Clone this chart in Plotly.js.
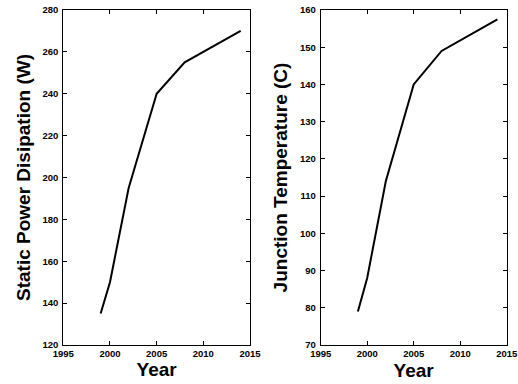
<!DOCTYPE html>
<html>
<head>
<meta charset="utf-8">
<script src="https://cdn.plot.ly/plotly-3.0.1.min.js"></script>
<style>html,body{margin:0;padding:0;background:#fff;}#chart{width:518px;height:384px;}</style>
</head>
<body>
<div id="chart"></div>
<script>
const years = [1999, 2000, 2002, 2005, 2008, 2014];
const staticPower = [135, 150, 195, 240, 255, 270];
const junctionTemp = [79, 88, 114, 140, 149, 157.5];
const xTitle = 'Year';
const leftTitle = 'Static Power Disipation (W)';
const rightTitle = 'Junction Temperature (C)';

const tickFont = {family: 'Liberation Sans, Arial, sans-serif', size: 9.5, color: '#000', weight: 'bold'};
const titleFont = {family: 'Liberation Sans, Arial, sans-serif', size: 19, color: '#000', weight: 'bold'};

function axisBase(extra) {
  return Object.assign({
    showline: true, linecolor: '#000', linewidth: 1,
    mirror: 'ticks', ticks: 'inside', ticklen: 4, tickwidth: 1, tickcolor: '#000',
    showgrid: false, zeroline: false, tickfont: tickFont, automargin: false,
    fixedrange: true
  }, extra);
}

const traces = [
  {x: years, y: staticPower, type: 'scatter', mode: 'lines', line: {color: '#000', width: 2}, xaxis: 'x', yaxis: 'y', showlegend: false},
  {x: years, y: junctionTemp, type: 'scatter', mode: 'lines', line: {color: '#000', width: 2}, xaxis: 'x2', yaxis: 'y2', showlegend: false}
];

const layout = {
  width: 518, height: 384,
  margin: {l: 0, r: 0, t: 10, b: 39},
  paper_bgcolor: '#fff', plot_bgcolor: '#fff',
  showlegend: false,
  xaxis: axisBase({domain: [63.3/518, 250/518], range: [1995, 2015], dtick: 5, tick0: 1995, anchor: 'y',
    title: {text: xTitle, font: titleFont, standoff: 3}}),
  yaxis: axisBase({domain: [0, 1], range: [120, 280], dtick: 20, tick0: 120, anchor: 'x', ticklabelstandoff: 2,
    title: {text: leftTitle, font: titleFont, standoff: 6}}),
  xaxis2: axisBase({domain: [320.7/518, 506.7/518], range: [1995, 2015], dtick: 5, tick0: 1995, anchor: 'y2',
    title: {text: xTitle, font: titleFont, standoff: 5}}),
  yaxis2: axisBase({domain: [0, 1], range: [70, 160], dtick: 10, tick0: 70, anchor: 'x2', ticklabelstandoff: 2,
    title: {text: rightTitle, font: titleFont, standoff: 7}})
};

Plotly.newPlot('chart', traces, layout, {displayModeBar: false, staticPlot: true});
</script>
</body>
</html>
